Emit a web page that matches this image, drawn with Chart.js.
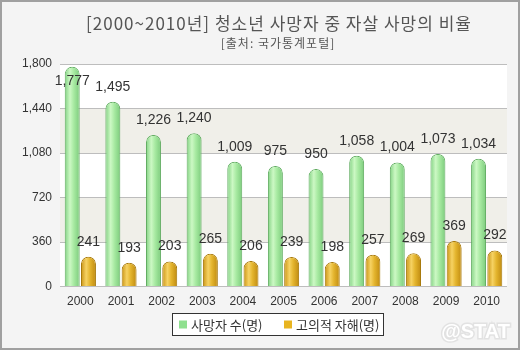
<!DOCTYPE html>
<html>
<head>
<meta charset="utf-8">
<script src="https://cdn.jsdelivr.net/npm/chart.js@4"></script>
<style>
  html, body { margin: 0; padding: 0; background: #fff; }
  #wrap { width: 516px; height: 346px; border: 2px solid #a0a0a0; background: #f4f4f4; position: relative; }
  canvas { display: block; }
</style>
</head>
<body>
<div id="wrap"><canvas id="c" width="516" height="346"></canvas></div>
<script>
const years = ["2000","2001","2002","2003","2004","2005","2006","2007","2008","2009","2010"];
const deaths = [1777, 1495, 1226, 1240, 1009, 975, 950, 1058, 1004, 1073, 1034];
const selfHarm = [241, 193, 203, 265, 206, 239, 198, 257, 269, 369, 292];
const seriesNames = ["사망자 수(명)", "고의적 자해(명)"];
const titleText = "[2000~2010년] 청소년 사망자 중 자살 사망의 비율";
const subText = "[출처: 국가통계포털]";

const KFONT = "'Noto Sans CJK KR', 'Noto Sans', sans-serif";
const NFONT = "'Liberation Sans', Arial, sans-serif";

const fmt = v => v.toLocaleString("en-US");

// gradient colours for the cylinder look
const looks = [
  { stops: ["#82d282", "#ccf8c4", "#a8eaa2", "#7ccb7c"], border: "#62ad62", key: "#8fe08f" },
  { stops: ["#c99314", "#f6d263", "#e4b52e", "#bf8a10"], border: "#a87a0c", key: "#e8b420" }
];

const paint = {
  id: "paint",
  beforeDraw(chart) {
    const { ctx, chartArea: a, scales: { y } } = chart;
    ctx.save();
    ctx.fillStyle = "#ffffff";
    ctx.fillRect(a.left, a.top, a.right - a.left, a.bottom - a.top);
    ctx.fillStyle = "#f0efe9";
    [[1440, 1080], [720, 360]].forEach(([hi, lo]) => {
      const t = y.getPixelForValue(hi), b = y.getPixelForValue(lo);
      ctx.fillRect(a.left, t, a.right - a.left, b - t);
    });
    // titles
    ctx.fillStyle = "#555";
    ctx.textAlign = "center";
    ctx.textBaseline = "middle";
    ctx.letterSpacing = "1px";
    ctx.font = "17px " + KFONT;
    ctx.fillText(titleText, 277, 22);
    ctx.font = "12px " + KFONT;
    ctx.fillText(subText, 276, 41);
    ctx.restore();
  },
  beforeDatasetDraw(chart, args) {
    const ctx = chart.ctx;
    const look = looks[args.index];
    args.meta.data.forEach(bar => {
      const l = bar.x - bar.width / 2, r = bar.x + bar.width / 2;
      const g = ctx.createLinearGradient(l, 0, r, 0);
      g.addColorStop(0, look.stops[0]);
      g.addColorStop(0.35, look.stops[1]);
      g.addColorStop(0.6, look.stops[2]);
      g.addColorStop(1, look.stops[3]);
      bar.options.backgroundColor = g;
      bar.options.borderColor = look.border;
    });
  },
  afterDatasetsDraw(chart) {
    const { ctx, chartArea: a } = chart;
    ctx.save();
    ctx.font = "14px " + NFONT;
    ctx.fillStyle = "#333";
    ctx.textAlign = "center";
    ctx.textBaseline = "middle";
    chart.data.datasets.forEach((ds, i) => {
      chart.getDatasetMeta(i).data.forEach((bar, j) => {
        const yy = Math.max(bar.y - 15, a.top + 17);
        ctx.fillText(fmt(ds.data[j]), bar.x, yy);
      });
    });
    ctx.restore();
  },
  afterDraw(chart) {
    const ctx = chart.ctx;
    ctx.save();
    // legend box
    const bx = 170.5, by = 311.5, bw = 211, bh = 22;
    ctx.fillStyle = "#fff";
    ctx.fillRect(bx, by, bw, bh);
    ctx.strokeStyle = "#333";
    ctx.lineWidth = 1;
    ctx.strokeRect(bx, by, bw, bh);
    ctx.font = "13px " + KFONT;
    ctx.textBaseline = "middle";
    ctx.textAlign = "left";
    const xs = [177, 282];
    chart.data.datasets.forEach((ds, i) => {
      ctx.fillStyle = looks[i].key;
      ctx.fillRect(xs[i], by + 7, 8, 8);
      ctx.fillStyle = "#333";
      ctx.fillText(ds.label, xs[i] + 12, by + bh / 2 + 1);
    });
    // watermark
    ctx.font = "bold 20px " + NFONT;
    ctx.textAlign = "right";
    ctx.lineWidth = 3;
    ctx.strokeStyle = "#e2e2e2";
    ctx.strokeText("@STAT", 508, 330);
    ctx.fillStyle = "#ffffff";
    ctx.fillText("@STAT", 508, 330);
    ctx.restore();
  }
};

const barStyle = {
  borderWidth: 1,
  borderRadius: { topLeft: 7, topRight: 7 },
  borderSkipped: "bottom",
  backgroundColor: () => "#8fe08f"   // scriptable so each bar gets its own options
};

new Chart(document.getElementById("c"), {
  type: "bar",
  data: {
    labels: years,
    datasets: [
      Object.assign({ label: seriesNames[0], data: deaths }, barStyle),
      Object.assign({ label: seriesNames[1], data: selfHarm }, barStyle)
    ]
  },
  options: {
    responsive: false,
    animation: false,
    devicePixelRatio: 1,
    layout: { padding: { top: 62, right: 11, bottom: 31, left: 12 } },
    datasets: { bar: { categoryPercentage: 0.8, barPercentage: 0.92 } },
    plugins: { legend: { display: false }, tooltip: { enabled: false } },
    scales: {
      x: {
        grid: { display: false, drawTicks: false },
        border: { display: false },
        ticks: { color: "#333", font: { family: NFONT, size: 12 }, padding: 8 }
      },
      y: {
        min: 0, max: 1800,
        grid: { color: "#bdbdbd", drawTicks: false },
        border: { display: false },
        ticks: { stepSize: 360, color: "#333", font: { family: NFONT, size: 12 }, padding: 8, callback: v => fmt(v) }
      }
    }
  },
  plugins: [paint]
});
</script>
</body>
</html>
